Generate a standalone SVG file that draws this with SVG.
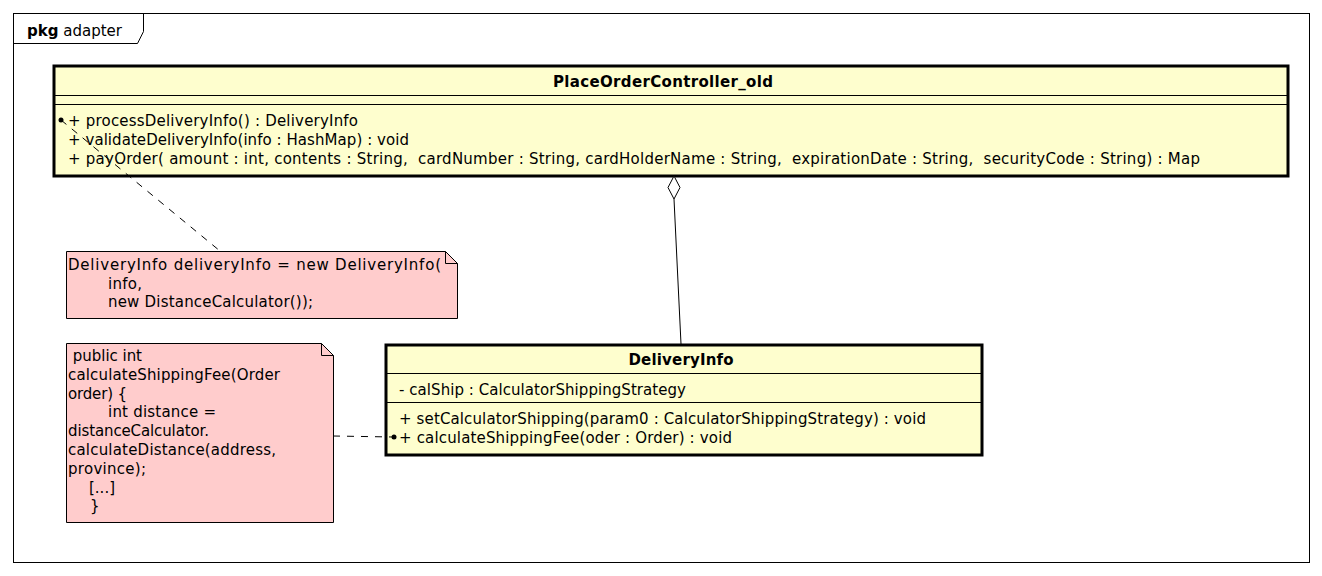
<svg xmlns="http://www.w3.org/2000/svg" width="1322" height="576" viewBox="0 0 1322 576">
<style>
text{font-family:"DejaVu Sans","Liberation Sans",sans-serif;font-size:15px;fill:#000}
.t{font-weight:bold;text-anchor:middle}
.cls{fill:#FEFECE;stroke:#000;stroke-width:3}
.sep{stroke:#000;stroke-width:1}
.note{fill:#FFCCCC;stroke:#000;stroke-width:1}
.dash{stroke:#000;stroke-width:1;stroke-dasharray:7,7;fill:none}
</style>
<rect x="0" y="0" width="1322" height="576" fill="#fff"/>
<g id="pkg">
<rect x="13.5" y="13.5" width="1296" height="549" fill="none" stroke="#000"/>
<path d="M13.5,43.5 H137.5 L143.5,31.5 V13.5" fill="none" stroke="#000"/>
<text x="27" y="36" textLength="95" lengthAdjust="spacingAndGlyphs"><tspan font-weight="bold">pkg</tspan> adapter</text>
</g>
<g id="PlaceOrderController_old">
<rect class="cls" x="54" y="66" width="1234" height="110"/>
<line class="sep" x1="54" y1="95.5" x2="1288" y2="95.5"/>
<line class="sep" x1="54" y1="104.5" x2="1288" y2="104.5"/>
<text class="t" x="663" y="87" textLength="220">PlaceOrderController_old</text>
<text x="68" y="126" textLength="290">+ processDeliveryInfo() : DeliveryInfo</text>
<text x="68" y="145" textLength="341">+ validateDeliveryInfo(info : HashMap) : void</text>
<text x="68" y="164" xml:space="preserve" textLength="1132">+ payOrder( amount : int, contents : String,  cardNumber : String, cardHolderName : String,  expirationDate : String,  securityCode : String) : Map</text>
</g>
<g id="DeliveryInfo">
<rect class="cls" x="386" y="345" width="596" height="110"/>
<line class="sep" x1="386" y1="373.5" x2="982" y2="373.5"/>
<line class="sep" x1="386" y1="402.5" x2="982" y2="402.5"/>
<text class="t" x="681" y="365" textLength="105">DeliveryInfo</text>
<text x="399" y="395" textLength="287">- calShip : CalculatorShippingStrategy</text>
<text x="399" y="424" textLength="527">+ setCalculatorShipping(param0 : CalculatorShippingStrategy) : void</text>
<text x="399" y="443" textLength="333">+ calculateShippingFee(oder : Order) : void</text>
</g>
<g id="note1">
<path class="note" d="M66.5,251.5 H445.5 L457.5,263.5 V318.5 H66.5 Z"/>
<path d="M445.5,251.5 V263.5 H457.5" fill="none" stroke="#000"/>
<text x="68" y="270" textLength="373">DeliveryInfo deliveryInfo = new DeliveryInfo(</text>
<text x="108" y="289" textLength="34">info,</text>
<text x="108" y="307" textLength="205">new DistanceCalculator());</text>
</g>
<g id="note2">
<path class="note" d="M66.5,343.5 H321.5 L333.5,355.5 V522.5 H66.5 Z"/>
<path d="M321.5,343.5 V355.5 H333.5" fill="none" stroke="#000"/>
<text x="68" y="361" xml:space="preserve" textLength="74"> public int</text>
<text x="68" y="380" textLength="212">calculateShippingFee(Order</text>
<text x="68" y="399" textLength="59">order) {</text>
<text x="108" y="417" textLength="108">int distance =</text>
<text x="68" y="436" textLength="141">distanceCalculator.</text>
<text x="68" y="455" textLength="208">calculateDistance(address,</text>
<text x="68" y="474" textLength="78">province);</text>
<text x="89" y="493" textLength="26">[...]</text>
<text x="90" y="511">}</text>
</g>
<g id="connectors">
<line class="dash" x1="61" y1="120" x2="220" y2="251"/>
<circle cx="61" cy="120" r="2.5" fill="#000"/>
<line class="dash" x1="333" y1="436" x2="393" y2="437"/>
<circle cx="394" cy="437" r="2.5" fill="#000"/>
<line x1="674" y1="199" x2="681" y2="344" stroke="#000"/>
<path d="M674,176 L680,187.5 L674,199 L668,187.5 Z" fill="#fff" stroke="#000"/>
</g>
</svg>
